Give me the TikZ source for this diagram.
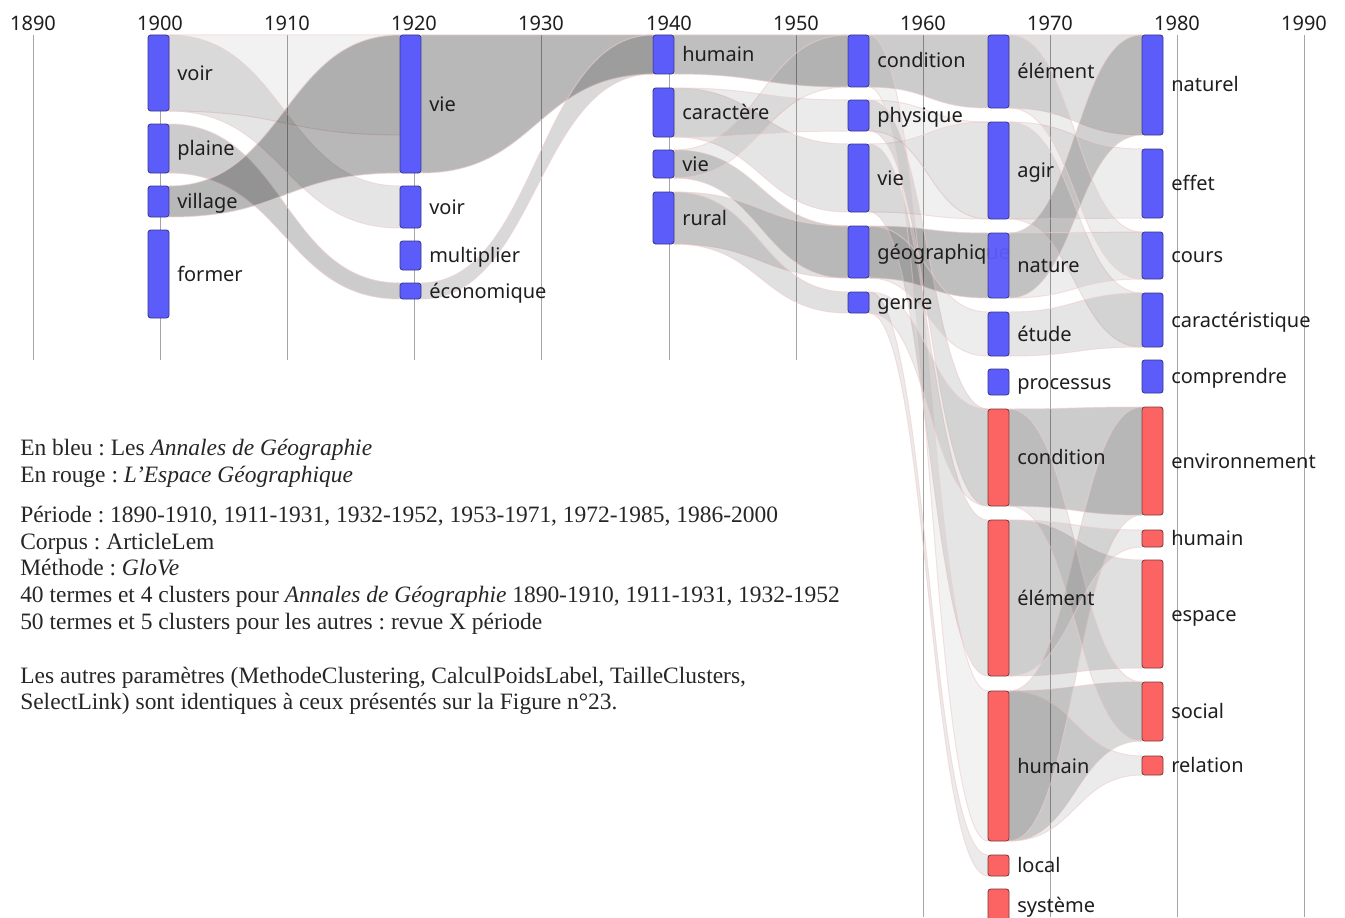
\documentclass[tikz,border=0pt]{standalone}
\usepackage{fontspec}
\setmainfont{Liberation Serif}
\newfontfamily\labelfont{Noto Sans}
\usetikzlibrary{calc}
\pgfdeclarelayer{grid}
\pgfdeclarelayer{flows}
\pgfsetlayers{grid,flows,main}
\definecolor{barblue}{RGB}{92,92,250}
\definecolor{barblueline}{RGB}{55,55,140}
\definecolor{barred}{RGB}{252,100,100}
\definecolor{barredline}{RGB}{125,55,55}
\definecolor{gridgray}{RGB}{165,165,165}
\definecolor{flowedge}{RGB}{238,205,205}
\definecolor{labelgray}{RGB}{30,30,30}
\tikzset{
  bluebar/.style={draw=barblueline, fill=barblue, line width=0.6pt, rounded corners=2pt, minimum width=15.75pt, inner sep=0pt, outer sep=0pt},
  redbar/.style={draw=barredline, fill=barred, line width=0.6pt, rounded corners=2pt, minimum width=15.75pt, inner sep=0pt, outer sep=0pt},
  lbl/.style={font=\labelfont\fontsize{15}{18}\selectfont, text=labelgray, inner sep=0pt, anchor=base west},
  yearlbl/.style={font=\labelfont\fontsize{15}{18}\selectfont, text=labelgray, inner sep=0pt, anchor=base},
  gridline/.style={draw=gridgray, line width=0.75pt},
  flowband/.style={fill=black, draw=flowedge, line width=0.75pt, draw opacity=0.6},
  txt/.style={font=\frenchspacing\fontsize{17.6}{20}\selectfont, text=black!85, inner sep=0pt, anchor=base west}
}
% bar: style, name, top, bottom, left x, label
\newcommand\barnode[6]{%
  \node[#1, minimum height={(#4-#3)*0.75pt}] (#2) at (#5+10.5, {(#3+#4)/2}) {};
  \node[lbl] (#2-l) at (#5+29, {(#3+#4)/2+7}) {#6};}
% flow: source, top off, bottom off, target, top off, bottom off, opacity
\newcommand\flow[7]{%
  \path let \p1=($(#1.north east)+(0,#2)$), \p2=($(#1.north east)+(0,#3)$),
            \p3=($(#4.north west)+(0,#5)$), \p4=($(#4.north west)+(0,#6)$),
            \p5=($(\p1)!0.5!(\p3)$) in
    [flowband, fill opacity=#7] (\p1) .. controls (\x5,\y1) and (\x5,\y3) .. (\p3)
    -- (\p4) .. controls (\x5,\y4) and (\x5,\y2) .. (\p2) -- cycle;}
\begin{document}
\begin{tikzpicture}[x=0.75pt,y=-0.75pt]
\useasboundingbox (0,0) rectangle (1345,917);
% year axis
\foreach \yr/\xx/\yy in {1890/33/360,1900/160/360,1910/287/360,1920/414/360,1930/541/360,1940/669/360,1950/796/360,1960/923/917,1970/1050/917,1980/1177/917,1990/1304/917}{
  \node[yearlbl] (y\yr) at (\xx,31) {\yr};
  \begin{pgfonlayer}{grid}
    \draw[gridline] (y\yr.south |- 0,35) -- (y\yr.south |- 0,\yy);
  \end{pgfonlayer}
}
% column 1 (1900)
\barnode{bluebar}{c1voir}{35}{111}{148}{voir}
\barnode{bluebar}{c1plaine}{124}{173}{148}{plaine}
\barnode{bluebar}{c1village}{186}{217}{148}{village}
\barnode{bluebar}{c1former}{230}{318}{148}{former}
% column 2 (1920)
\barnode{bluebar}{c2vie}{35}{173}{400}{vie}
\barnode{bluebar}{c2voir}{186}{228}{400}{voir}
\barnode{bluebar}{c2multi}{241}{270}{400}{multiplier}
\barnode{bluebar}{c2eco}{283}{299}{400}{économique}
% column 3 (1940)
\barnode{bluebar}{c3humain}{35}{74}{653}{humain}
\barnode{bluebar}{c3caract}{88}{137}{653}{caractère}
\barnode{bluebar}{c3vie}{150}{178}{653}{vie}
\barnode{bluebar}{c3rural}{192}{244}{653}{rural}
% column 4
\barnode{bluebar}{c4cond}{35}{87}{848}{condition}
\barnode{bluebar}{c4phys}{100}{131}{848}{physique}
\barnode{bluebar}{c4vie}{144}{212}{848}{vie}
\barnode{bluebar}{c4geo}{226}{278}{848}{géographique}
\barnode{bluebar}{c4genre}{292}{313}{848}{genre}
% column 5
\barnode{bluebar}{c5elem}{35}{108}{988}{élément}
\barnode{bluebar}{c5agir}{122}{219}{988}{agir}
\barnode{bluebar,fill opacity=0.96}{c5nature}{233}{298}{988}{nature}
\barnode{bluebar}{c5etude}{312}{356}{988}{étude}
\barnode{bluebar}{c5proc}{369}{395}{988}{processus}
\barnode{redbar}{c5rcond}{409}{506}{988}{condition}
\barnode{redbar}{c5relem}{520}{676}{988}{élément}
\barnode{redbar}{c5rhum}{691}{841}{988}{humain}
\barnode{redbar}{c5local}{855}{876}{988}{local}
\barnode{redbar}{c5syst}{889}{922}{988}{système}
% column 6
\barnode{bluebar}{c6nat}{35}{135}{1142}{naturel}
\barnode{bluebar}{c6effet}{149}{218}{1142}{effet}
\barnode{bluebar}{c6cours}{232}{279}{1142}{cours}
\barnode{bluebar}{c6caract}{293}{347}{1142}{caractéristique}
\barnode{bluebar}{c6compr}{360}{393}{1142}{comprendre}
\barnode{redbar}{c6env}{407}{515}{1142}{environnement}
\barnode{redbar}{c6hum}{530}{547}{1142}{humain}
\barnode{redbar}{c6esp}{560}{668}{1142}{espace}
\barnode{redbar}{c6soc}{682}{741}{1142}{social}
\barnode{redbar}{c6rel}{756}{775}{1142}{relation}
% flows
\begin{pgfonlayer}{flows}
\flow{c1voir}{0}{76}{c2vie}{0}{100}{0.05}
\flow{c1voir}{0}{76}{c2voir}{0}{42}{0.1}
\flow{c1plaine}{0}{49}{c2eco}{0}{16}{0.2}
\flow{c1village}{0}{31}{c2vie}{0}{138}{0.28}
\flow{c2vie}{0}{138}{c3humain}{0}{39}{0.28}
\flow{c2eco}{0}{16}{c3humain}{0}{39}{0.15}
\flow{c3humain}{0}{39}{c4cond}{0}{52}{0.25}
\flow{c3caract}{0}{49}{c4vie}{0}{68}{0.1}
\flow{c3vie}{0}{28}{c4geo}{0}{52}{0.18}
\flow{c3rural}{0}{52}{c4geo}{0}{52}{0.12}
\flow{c3rural}{0}{52}{c4genre}{0}{21}{0.12}
\flow{c3vie}{0}{28}{c4cond}{0}{52}{0.07}
\flow{c3caract}{0}{49}{c4phys}{0}{31}{0.08}
\flow{c4cond}{0}{52}{c5elem}{0}{73}{0.2}
\flow{c4phys}{0}{31}{c5agir}{0}{97}{0.05}
\flow{c4vie}{0}{68}{c5agir}{0}{97}{0.06}
\flow{c4geo}{0}{52}{c5nature}{0}{65}{0.25}
\flow{c4phys}{0}{31}{c5rcond}{0}{97}{0.1}
\flow{c4vie}{0}{68}{c5relem}{0}{156}{0.1}
\flow{c4cond}{0}{52}{c5rhum}{0}{150}{0.05}
\flow{c4genre}{0}{21}{c5local}{0}{21}{0.08}
\flow{c4geo}{0}{52}{c5etude}{0}{44}{0.07}
\flow{c4genre}{0}{21}{c5rcond}{0}{97}{0.08}
\flow{c5elem}{0}{73}{c6nat}{0}{100}{0.12}
\flow{c5nature}{0}{65}{c6nat}{0}{100}{0.18}
\flow{c5agir}{0}{97}{c6effet}{0}{69}{0.07}
\flow{c5agir}{0}{97}{c6caract}{0}{54}{0.08}
\flow{c5nature}{0}{65}{c6cours}{0}{47}{0.07}
\flow{c5etude}{0}{44}{c6caract}{0}{54}{0.1}
\flow{c5elem}{0}{73}{c6cours}{0}{47}{0.07}
\flow{c5rcond}{0}{97}{c6env}{0}{108}{0.2}
\flow{c5relem}{0}{156}{c6esp}{0}{108}{0.12}
\flow{c5rhum}{0}{150}{c6soc}{0}{59}{0.15}
\flow{c5rhum}{0}{150}{c6rel}{0}{19}{0.08}
\flow{c5rhum}{0}{150}{c6env}{0}{108}{0.1}
\flow{c5rcond}{0}{97}{c6soc}{0}{59}{0.08}
\flow{c5relem}{0}{156}{c6hum}{0}{17}{0.08}
\end{pgfonlayer}
% legend text
\node[txt] (t1) at (20,455) {En bleu : Les \textit{Annales de Géographie}};
\node[txt] (t2) at (20,482) {En rouge : \textit{L'Espace Géographique}};
\node[txt] (t3) at (20,522) {Période : 1890-1910, 1911-1931, 1932-1952, 1953-1971, 1972-1985, 1986-2000};
\node[txt] (t4) at (20,549) {Corpus : ArticleLem};
\node[txt] (t5) at (20,575) {Méthode : \textit{GloVe}};
\node[txt] (t6) at (20,602) {40 termes et 4 clusters pour \textit{Annales de Géographie} 1890-1910, 1911-1931, 1932-1952};
\node[txt] (t7) at (20,629) {50 termes et 5 clusters pour les autres : revue X période};
\node[txt] (t8) at (20,683) {Les autres paramètres (MethodeClustering, CalculPoidsLabel, TailleClusters,};
\node[txt] (t9) at (20,709) {SelectLink) sont identiques à ceux présentés sur la Figure n°23.};
\end{tikzpicture}
\end{document}
